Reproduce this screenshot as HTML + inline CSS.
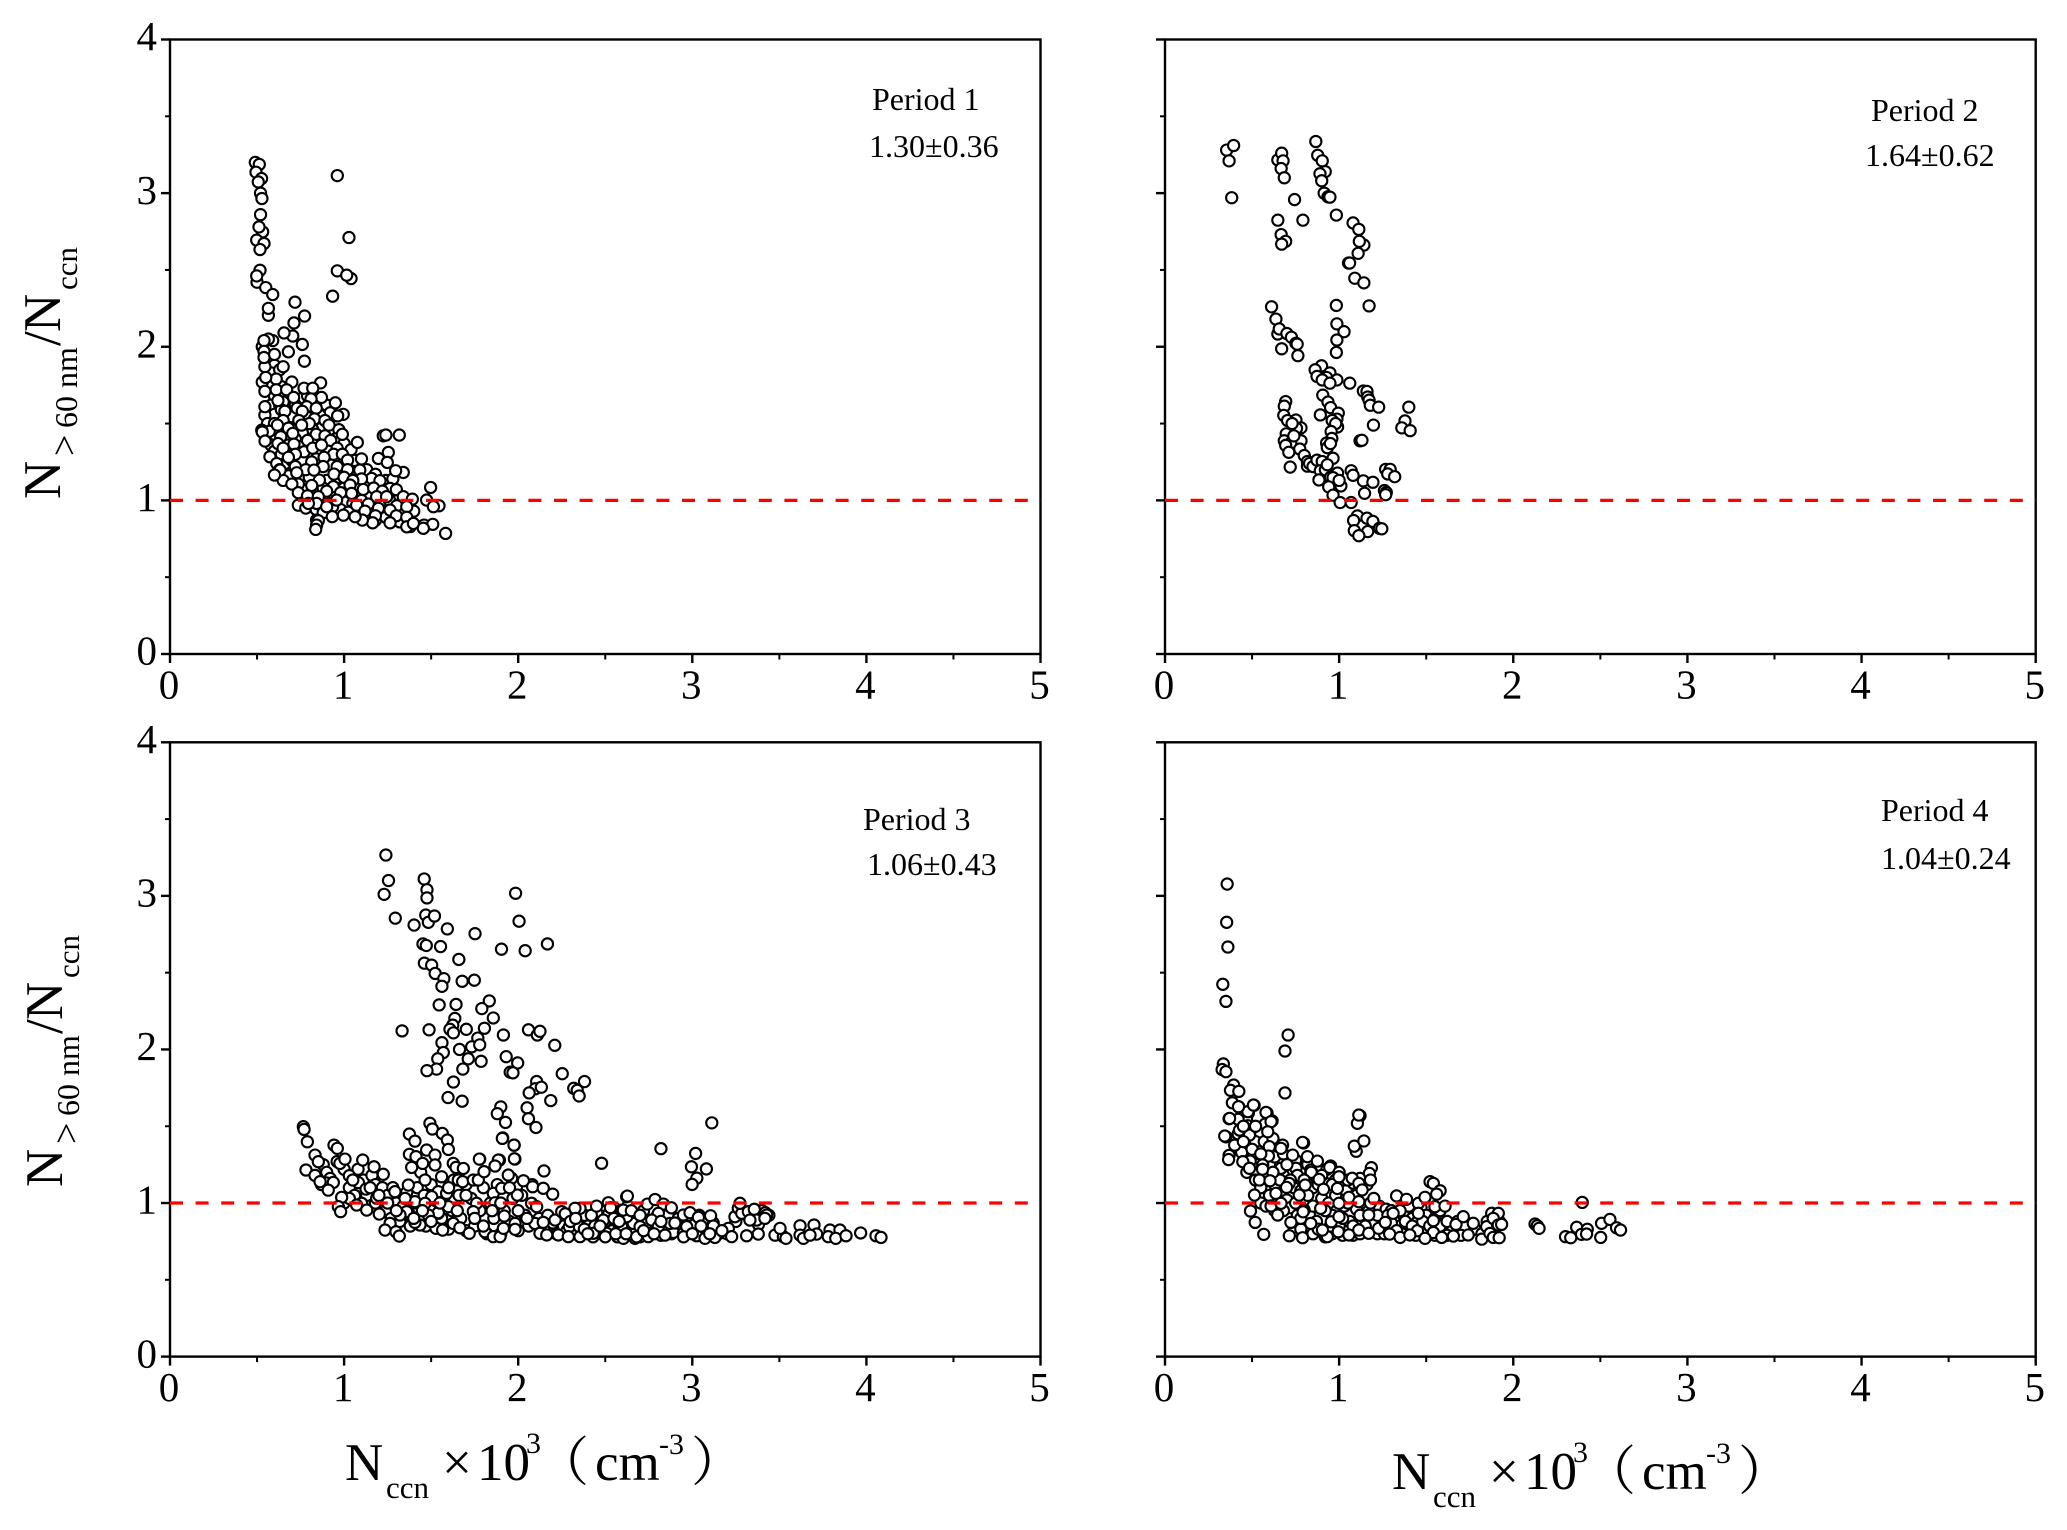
<!DOCTYPE html>
<html>
<head>
<meta charset="utf-8">
<title>Four period scatter panels</title>
<style>
html,body{margin:0;padding:0;background:#fff;}
svg{display:block;}
text{font-family:"Liberation Serif","Noto Serif CJK SC",serif;fill:#000;}
</style>
</head>
<body>
<svg id="chart" xmlns="http://www.w3.org/2000/svg" width="2067" height="1530" viewBox="0 0 2067 1530">
<rect width="2067" height="1530" fill="#fff"/>
<g id="panels"></g>

<g transform="translate(60,499) rotate(-90)">
<text x="0" y="0" font-size="53">N</text>
<text x="43" y="17" font-size="38">&gt;</text>
<text x="71" y="17" font-size="32">60 nm</text>
<text x="153" y="0" font-size="53">/</text>
<text x="167" y="0" font-size="53">N</text>
<text x="209" y="17" font-size="31">ccn</text>
</g>
<g transform="translate(62,1187) rotate(-90)">
<text x="0" y="0" font-size="53">N</text>
<text x="43" y="17" font-size="38">&gt;</text>
<text x="71" y="17" font-size="32">60 nm</text>
<text x="153" y="0" font-size="53">/</text>
<text x="167" y="0" font-size="53">N</text>
<text x="209" y="17" font-size="31">ccn</text>
</g>
<g transform="translate(1,0)">
<text x="344" y="1480" font-size="53">N</text>
<text x="385" y="1498" font-size="31">ccn</text>
<text x="441" y="1480" font-size="53">×</text>
<text x="476" y="1480" font-size="53">10</text>
<text x="525" y="1453" font-size="30">3</text>
<text x="535" y="1480" font-size="53">（</text>
<text x="594" y="1480" font-size="53">cm</text>
<text x="658" y="1454" font-size="30">-3</text>
<text x="690" y="1480" font-size="53">）</text>
</g>
<g transform="translate(1048,9)">
<text x="344" y="1480" font-size="53">N</text>
<text x="385" y="1498" font-size="31">ccn</text>
<text x="441" y="1480" font-size="53">×</text>
<text x="476" y="1480" font-size="53">10</text>
<text x="525" y="1453" font-size="30">3</text>
<text x="535" y="1480" font-size="53">（</text>
<text x="594" y="1480" font-size="53">cm</text>
<text x="658" y="1454" font-size="30">-3</text>
<text x="690" y="1480" font-size="53">）</text>
</g>

<text x="872" y="110" font-size="32">Period 1</text>
<text x="869" y="157" font-size="32">1.30±0.36</text>
<text x="1871" y="121" font-size="32">Period 2</text>
<text x="1865" y="166" font-size="32">1.64±0.62</text>
<text x="863" y="830" font-size="32">Period 3</text>
<text x="867" y="875" font-size="32">1.06±0.43</text>
<text x="1881" y="821" font-size="32">Period 4</text>
<text x="1881" y="869" font-size="32">1.04±0.24</text>
</svg>

<script>
const xTickLabels = [0, 1, 2, 3, 4, 5];
const yTickLabels = [0, 1, 2, 3, 4];
const referenceRatio = [1];

const period1Points = [
[.49,3.2],[.513,3.187],[.494,3.136],[.526,3.095],[.507,3.073],[.52,3.0],[.528,2.965],[.52,2.86],[.532,2.748],[.511,2.78],[.498,2.694],[.54,2.672],[.517,2.633],[.517,2.498],[.5,2.42],[.498,2.461],[.55,2.385],[.59,2.34],[.565,2.205],[.565,2.25],
[.718,2.29],[.773,2.2],[.712,2.155],[.705,2.07],[.655,2.09],[.76,2.015],[.68,1.967],[.772,1.906],[.961,3.114],[1.028,2.711],[.961,2.494],[1.04,2.444],[1.015,2.466],[.934,2.329],
[.57,1.92],[.6,1.88],[.58,1.83],[.63,1.85],[.57,1.76],[.64,1.74],[.6,1.68],[.68,1.66],[.58,1.62],[.63,1.62],[.75,1.66],[.79,1.68],[.72,1.62],[.9,1.62],[.92,1.57],[.78,1.55],[.67,1.55],[.6,1.56],[.87,1.47],[.82,1.46],[.76,1.44],[.6,1.43],[.66,1.42],[.72,1.4],[.84,1.43],[.89,1.42],[.97,1.46],[.95,1.4],[.58,1.36],[.6,1.32],[.64,1.3],[.68,1.36],[.74,1.35],[.8,1.31],[.85,1.3],[.9,1.33],[1.0,1.37],[1.04,1.33],[1.0,1.25],[1.06,1.26],[1.1,1.27],[.66,1.24],[.7,1.26],[.76,1.26],[.9,1.26],[.84,1.27],[.93,1.23],[.68,1.16],[.65,1.13],[.77,1.14],[.8,1.15],[.9,1.13],[.97,1.15],[1.08,1.17],[1.13,1.2],[1.18,1.17],[1.24,1.13],[1.28,1.14],[1.14,1.1],[1.2,1.1],[.76,1.07],[.83,1.06],[.88,1.08],[.94,1.03],[1.0,1.08],[1.07,1.03],[1.13,1.03],[1.28,1.0],[1.32,1.03],[.78,1.0],[.86,1.0],[.92,.98],[1.0,.99],[1.05,.98],[1.1,1.0],[1.16,.97],[1.22,.98],[1.26,1.0],[.82,.96],[.88,.96],[.98,.94],[1.04,.93],[1.1,.9],[1.14,.92],[1.22,.93],[1.28,.92],[1.33,.93],[1.4,.93],[1.18,.87],[1.24,.89],[1.32,.86],[1.38,.83],
[.59,2.04],[.565,2.05],[.53,2.0],[.60,1.95],[.54,2.04],[.54,1.97],[.545,1.87],[.65,1.87],[.54,1.93],[.53,1.77],[.61,1.79],[.70,1.77],[.61,1.72],[.545,1.71],[.55,1.80],[.67,1.72],[.77,1.73],[.865,1.765],[.82,1.73],[.87,1.67],[.81,1.66],[.71,1.67],[.65,1.64],[.95,1.635],[.995,1.56],[.963,1.55],[.86,1.555],[.545,1.555],[.70,1.545],[.545,1.61],[.785,1.61],[.64,1.59],
[.62,1.65],[.66,1.58],[.73,1.6],[.76,1.58],[.74,1.52],[.84,1.6],[.83,1.53],[.89,1.52],[.8,1.5],[.56,1.5],[.6,1.5],[.65,1.52],[.68,1.47],[.57,1.45],[.527,1.457],[.53,1.445],[.99,1.43],[.756,1.49],[.913,1.49],[.617,1.49],[.705,1.436],[.636,1.414],[.546,1.386],[.79,1.39],[.923,1.39],[.712,1.366],[1.076,1.377],[1.225,1.42],[1.24,1.425],[1.317,1.425],
[.62,1.37],[.65,1.34],[.77,1.316],[.574,1.284],[.72,1.3],[.68,1.28],[.82,1.34],[.87,1.36],[.96,1.34],[.94,1.3],[.99,1.3],[.885,1.28],[1.02,1.262],[1.254,1.312],[1.197,1.273],[1.248,1.247],[.613,1.24],[.814,1.25],[.63,1.2],[.72,1.22],[.78,1.2],[.88,1.22],[.96,1.22],[1.02,1.2],[1.09,1.197],[1.34,1.182],[1.296,1.193],[.632,1.197],[.728,1.18],[.827,1.197],[.6,1.165],[.942,1.171],[1.0,1.15],[1.158,1.143],[1.206,1.128],[1.1,1.14],[1.05,1.13],[.858,1.132],[.737,1.106],[.70,1.106],[.814,1.097],[1.264,1.078],[1.034,1.10],[.938,1.089],[1.11,1.071],[1.17,1.08],[1.22,1.06],[1.3,1.07],[1.35,1.0],[.737,1.05],[.79,1.03],[1.043,1.045],[.9,1.06],[.98,1.05],[.852,1.024],[1.187,1.024],[1.244,1.024],[1.34,1.024],[1.392,1.008],[1.474,1.002],[1.497,1.084],
[.737,.969],[.78,.95],[.84,.94],[.88,.92],[.934,.959],[1.545,.965],[1.513,.959],[1.139,.976],[1.302,.965],[1.197,.948],[1.36,.959],[1.024,.922],[.842,.98],[.957,1.002],[1.072,.969],[.795,.98],[.90,.959],[1.264,.937],[1.12,.93],[1.18,.9],[1.3,.9],[1.36,.89],[1.264,.854],[1.36,.828],[1.459,.839],[1.509,.844],[1.583,.785],[1.455,.818],[1.398,.85],[1.164,.854],[1.105,.872],[1.063,.894],[.932,.894],[.996,.904],[.842,.872],[.852,.868],[.842,.839],[.837,.811]
];

const period2Points = [
[.354,3.28],[.394,3.31],[.368,3.21],[.383,2.97],[.648,3.216],[.67,3.26],[.678,3.21],[.667,3.16],[.685,3.10],[.866,3.336],[.877,3.246],[.903,3.21],[.92,3.14],[.89,3.126],[.90,3.08],[.914,3.0],[.936,2.976],[.947,2.974],
[.744,2.958],[.792,2.824],[.648,2.824],[.984,2.857],[.667,2.73],[.693,2.686],[.67,2.668],[1.08,2.806],[1.113,2.764],[1.142,2.662],[1.116,2.686],[1.109,2.608],[1.054,2.545],[1.06,2.545],[1.09,2.446],[1.142,2.416],[1.172,2.266],[.984,2.269],[.987,2.149],[1.028,2.098],[.987,2.044],[.984,1.963],
[.612,2.26],[.637,2.18],[.648,2.083],[.656,2.116],[.70,2.086],[.726,2.062],[.752,2.023],[.759,2.017],[.67,1.987],[.763,1.942],
[.899,1.876],[.862,1.85],[.873,1.807],[.947,1.83],[.928,1.80],[.903,1.784],[.987,1.784],[.947,1.763],[1.061,1.763],[1.139,1.712],[1.16,1.709],[1.164,1.673],[1.172,1.652],[1.179,1.619],[1.227,1.607],[1.378,1.517],[1.40,1.607],[1.36,1.472],[1.408,1.454],[1.197,1.49],
[.906,1.685],[.936,1.64],[.951,1.604],[.892,1.556],[.995,1.568],[.987,1.529],[.991,1.478],[.96,1.52],[.98,1.5],[.954,1.448],[.958,1.403],[.928,1.373],[.932,1.343],[.95,1.37],[1.12,1.388],[1.131,1.391],
[.693,1.643],[.685,1.613],[.682,1.553],[.704,1.52],[.752,1.523],[.781,1.472],[.755,1.469],[.73,1.5],[.696,1.433],[.781,1.388],[.685,1.388],[.722,1.373],[.74,1.42],[.693,1.358],[.774,1.334],[.711,1.313],[.80,1.292],[.719,1.217],[.818,1.253],[.818,1.223],[.83,1.24],[.85,1.22],[.873,1.262],[.903,1.253],[.965,1.274],[.892,1.193],[.921,1.199],[.991,1.178],[.932,1.232],[.95,1.15],[.884,1.133],[.965,1.148],[.94,1.088],[1.01,1.094],[.965,1.034],[1.0,1.13],[1.069,1.193],[1.08,1.163],[1.139,1.127],[1.194,1.118],[1.146,1.046],[1.267,1.202],[1.293,1.202],[1.279,1.172],[1.319,1.154],[1.26,1.064],[1.271,1.052],[1.267,1.037],
[1.006,.986],[1.069,.986],[1.105,.899],[1.16,.884],[1.083,.869],[1.194,.863],[1.231,.818],[1.245,.815],[1.087,.803],[1.164,.797],[1.113,.77]
];

const period3Points = [
[1.24,3.266],[1.255,3.10],[1.23,3.01],[1.294,2.855],[1.46,3.11],[1.476,3.04],[1.476,2.987],[1.469,2.875],[1.484,2.828],[1.519,2.869],[1.402,2.81],[1.593,2.785],[1.453,2.687],[1.472,2.677],[1.554,2.67],[1.752,2.754],[1.461,2.562],[1.503,2.549],[1.523,2.495],[1.659,2.586],[1.573,2.461],[1.678,2.444],[1.748,2.451],[1.562,2.411],[1.546,2.29],[1.643,2.293],[1.834,2.316],[1.791,2.266],[1.857,2.205],[1.636,2.202],[1.806,2.138],[1.624,2.158],[1.608,2.131],[1.628,2.108],[1.702,2.131],[1.768,2.074],[1.488,2.128],[1.333,2.121],[1.915,2.094],[2.059,2.128],[2.11,2.094],[2.125,2.118],[2.21,2.027],[1.997,1.912],[1.931,1.953],[1.733,2.017],[1.663,2.0],[1.779,2.03],[1.562,2.044],[1.57,1.98],[1.538,1.939],[1.713,1.939],[1.787,1.923],[1.682,1.872],[1.531,1.872],[1.476,1.862],[1.628,1.788],[1.954,1.852],[1.97,1.848],[2.253,1.842],[1.985,3.017],[2.005,2.835],[1.904,2.653],[2.04,2.643],[2.168,2.687],
[2.381,1.791],[2.106,1.791],[2.098,1.744],[2.063,1.717],[2.133,1.754],[2.319,1.747],[2.339,1.734],[2.35,1.697],[2.187,1.667],[1.597,1.687],[1.678,1.663],[1.9,1.626],[1.88,1.582],[2.051,1.62],[2.059,1.549],[1.927,1.525],[2.102,1.492],[1.911,1.424],[1.977,1.377],[1.981,1.286],[1.892,1.279],[1.779,1.286],[2.148,1.209],[2.479,1.259],[2.82,1.354],[3.112,1.522],[3.019,1.323],[2.995,1.236],[3.081,1.222],[3.026,1.162],[2.999,1.121],
[.88,1.25],[.9,1.2],[.92,1.16],[.87,1.12],[.9,1.13],[.96,1.27],[1.0,1.22],[1.03,1.1],[1.06,1.05],[1.0,1.0],[1.03,1.03],[1.08,1.22],[1.11,1.15],[1.13,1.05],[1.16,1.18],[1.18,1.12],[1.18,1.0],[1.22,1.1],[1.24,.95],[1.25,1.05],[1.27,.9],[1.28,1.1],[1.3,1.0],[1.32,.88],[1.34,.98],[1.36,1.07],[1.38,.92],[1.38,.85],[1.4,1.0],[1.42,1.1],[1.44,1.2],[1.44,.88],[1.46,1.05],[1.47,.85],[1.5,.95],[1.5,1.12],[1.52,1.03],[1.53,.85],[1.56,.9],[1.58,1.05],[1.6,.83],[1.62,.95],[1.63,1.15],[1.66,1.05],[1.67,.9],[1.7,1.12],[1.7,.82],[1.73,1.03],[1.75,.85],[1.78,.95],[1.8,1.1],[1.82,.8],[1.84,1.0],[1.86,.9],[1.88,1.12],[1.9,.8],[1.92,.95],[1.95,.88],[1.97,1.03],[2.0,.82],[2.02,1.05],[2.04,.92],[2.06,.85],[2.08,1.12],[2.12,.9],[2.15,.82],[2.17,.92],[2.2,.87],[2.22,.8],[2.26,.85],[2.28,.82],[2.32,.8],[2.35,.9],[2.38,.92],[2.4,.85],[2.43,.78],[2.44,.85],[2.46,.92],[2.48,.8],[2.5,.88],[2.52,.93],[2.54,.82],[2.55,.97],[2.57,.78],[2.6,.84],[2.61,.93],[2.63,.98],[2.64,.88],[2.66,.82],[2.68,.9],[2.7,.78],[2.72,.95],[2.74,.87],[2.76,.8],[2.8,.92],[2.82,.79],[2.84,.85],[2.86,.92],[2.88,.8],[2.92,.9],[2.94,.83],[2.98,.92],[3.02,.8],[3.04,.92],[3.08,.82],[3.12,.87],[3.15,.8],[3.2,.8],[3.25,.88],[3.3,.93],[3.34,.91],[3.38,.86],[3.4,.95],[3.44,.92],
[.766,1.497],[.77,1.479],[.789,1.399],[.781,1.215],[.942,1.377],[.961,1.356],[.833,1.312],[.852,1.269],[.976,1.258],[1.005,1.286],[1.107,1.28],[1.172,1.236],[1.225,1.187],[1.03,1.178],[.833,1.18],[.862,1.139],[.938,1.134],[1.082,1.133],[1.126,1.091],[.909,1.084],[.986,1.037],[1.187,1.031],[.967,.976],[.98,.944],[1.101,.998],[1.13,.954],[1.072,.987],[1.202,.928],[1.292,1.074],[1.369,1.117],[1.264,.867],[1.235,.824],[1.298,.813],[1.317,.785],[1.359,.944],[1.321,.922],[1.436,.857],[1.407,.874],[1.528,.835],[1.566,.824],[1.541,.933],[1.627,.867],[1.665,.839],[1.719,.803],[1.809,.813],[1.857,.781],[1.896,.781],[1.915,.835],[1.92,.915],[1.982,.867],[1.982,.829],[1.761,.998],[1.742,.944],[1.857,1.063],[1.905,1.096],[1.867,1.002],[1.991,1.11],[1.962,1.161],[1.943,1.182],[1.995,1.052],[2.03,1.145],[2.083,1.106],[2.144,1.096],[2.198,1.058],[2.077,.998],[2.106,.976],[2.096,.867],[2.125,.803],[2.164,.792],[2.144,.874],[2.212,.889],[2.23,.792],[2.294,.846],[2.288,.781],[2.25,.944],[2.355,.966],[2.326,.966],[2.351,.846],[2.355,.781],[2.451,.937],[2.489,.889],[2.518,1.002],[2.508,.803],[2.431,.803],[2.594,.954],[2.581,.839],[2.623,1.041],[2.604,.77],
[1.375,1.449],[1.407,1.403],[1.375,1.317],[1.413,1.302],[1.388,1.232],[1.474,1.345],[1.522,1.312],[1.522,1.248],[1.451,1.258],[1.465,1.15],[1.56,1.171],[1.493,1.519],[1.507,1.482],[1.564,1.453],[1.593,1.41],[1.599,1.349],[1.541,1.074],[1.503,1.041],[1.589,1.063],[1.407,1.009],[1.465,.998],[1.541,.937],[1.484,.922],[1.599,.976],[1.627,1.258],[1.643,1.232],[1.685,1.225],[1.656,1.15],[1.681,1.139],[1.742,1.15],[1.771,1.15],[1.804,1.204],[1.777,1.286],[1.886,1.28],[1.867,1.241],[1.976,1.377],[1.978,1.288],[1.909,1.421],
[2.627,1.045],[2.742,.993],[2.786,1.023],[2.834,.993],[2.88,.969],[2.949,.922],[2.987,.937],[2.805,.933],[2.767,.889],[3.035,.907],[3.105,.917],[3.121,.85],[3.207,.835],[2.805,.846],[2.891,.809],[2.843,.791],[2.949,.803],[3.025,.787],[3.073,.77],[3.13,.776],[3.226,.781],[3.312,.787],[3.379,.798],[3.475,.791],[3.523,.781],[3.538,.77],[3.504,.835],[3.619,.852],[3.619,.791],[3.638,.77],[3.699,.857],[3.714,.798],[3.676,.791],[3.791,.824],[3.848,.824],[3.781,.781],[3.824,.77],[3.883,.787],[3.967,.805],[4.055,.787],[4.084,.776],
[3.245,.911],[3.264,.966],[3.284,.933],[3.322,.944],[3.356,.959],[3.419,.937],[3.427,.922],[3.37,.889],[3.417,.9],[3.331,.889],[3.274,.998],[2.671,.77],[2.747,.781],[2.661,.867],[2.623,.911],[2.872,.867],[2.968,.846],[2.70,.846],[2.604,.954],[2.594,.846],
[2.27,.93],[2.3,.88],[2.33,.9],[2.38,.83],[2.4,.8],[2.42,.92],[2.45,.98],[2.47,.85],[2.5,.78],[2.53,.97],[2.55,.9],[2.56,.8],[2.58,.88],[2.62,.8],[2.65,.95],[2.68,.78],[2.7,.92],[2.72,.82],[2.78,.8],[2.82,.88],[2.9,.87],[2.95,.78],[3.0,.8],[3.05,.85],[3.1,.8],[3.17,.82],
[1.05,1.15],[1.15,1.1],[1.2,1.05],[1.25,1.0],[1.3,.95],[1.35,1.03],[1.4,.9],[1.45,.95],[1.5,.88],[1.55,1.0],[1.6,1.1],[1.65,.95],[1.7,1.05],[1.75,.9],[1.8,.85],[1.85,.95],[1.9,1.0],[1.95,1.1],[2.0,.95],[2.05,.9]
];

const period4Points = [
[.357,3.077],[.354,2.828],[.361,2.667],[.332,2.424],[.35,2.313],[.707,2.094],[.689,1.99],[.689,1.717],
[.335,1.906],[.328,1.869],[.35,1.855],[.394,1.768],[.376,1.734],[.424,1.727],[.387,1.653],[.424,1.626],[.512,1.636],[.586,1.586],[.479,1.586],[.468,1.545],[.368,1.549],[.578,1.508],[.615,1.535],[.42,1.545],[.431,1.468],[.486,1.434],[.578,1.451],[.35,1.431],[.405,1.377],[.67,1.367],[.796,1.391],[.368,1.31],[.365,1.283],[.494,1.266],[.597,1.3],[.56,1.246],[.542,1.35],[.468,1.313],[1.098,1.337],[1.087,1.37],[1.142,1.404],[1.12,1.569],[1.105,1.519],[1.113,1.573],
[.42,1.45],[.46,1.42],[.5,1.48],[.55,1.45],[.48,1.38],[.52,1.4],[.57,1.4],[.62,1.42],[.44,1.33],[.5,1.3],[.53,1.25],[.6,1.25],[.63,1.3],[.47,1.2],[.52,1.2],[.58,1.17],[.63,1.12],[.68,1.32],[.72,1.22],[.75,1.28],[.78,1.22],[.82,1.25],[.86,1.18],[.68,1.18],[.74,1.1],[.78,1.08],[.85,1.1],[.92,1.13],[.93,1.22],[.98,1.15],[1.04,1.08],[1.08,1.13],[1.12,1.16],[1.16,1.12],[.55,1.0],[.58,.98],[.63,.95],[.7,1.02],[.72,.97],[.76,.92],[.8,1.0],[.83,.92],[.87,.88],[.9,1.03],[.94,1.0],[.96,.92],[1.0,.85],[1.03,.98],[1.06,.88],[1.1,.96],[1.13,.87],[1.17,.95],[1.2,.87],[1.23,.98],[1.27,.96],[1.3,.95],[1.32,.9],[1.35,.85],[1.37,.92],[1.4,.98],[1.42,.9],[1.45,.88],[1.47,.97],[1.5,.92],[1.55,.9],[1.58,.95],[1.6,.83],[1.65,.82],[1.68,.88],[1.72,.85],[1.78,.83],[1.82,.8],[1.85,.88],[1.88,.83],[1.92,.88],[.74,.82],[.78,.83],[.85,.8],[.88,.83],[.92,.78],[.96,.8],[1.02,.79],[1.08,.79],[1.12,.8],[1.22,.8],[1.26,.8],[1.36,.8],[1.44,.79],[1.55,.79],[1.62,.79],[1.7,.79],
[.476,1.595],[.58,1.59],[.508,1.638],[.575,1.514],[.476,1.503],[.371,1.551],[.422,1.627],[.609,1.53],[.59,1.464],[.485,1.443],[.4,1.377],[.343,1.436],[.428,1.475],[.675,1.377],[.79,1.395],[.666,1.356],[.599,1.367],[.489,1.273],[.447,1.269],[.594,1.306],[.733,1.312],[.818,1.302],[.875,1.273],[.951,1.241],[.946,1.232],[.666,1.226],[.561,1.248],[.485,1.226],[.752,1.226],[.837,1.215],[.45,1.4],[.5,1.35],[.55,1.32],[.45,1.5],[.52,1.5],
[.7,1.25],[.76,1.18],[.84,1.2],[.66,1.15],[.62,1.2],[.56,1.22],[.52,1.15],[.9,1.18],[.96,1.12],[1.0,1.2],[1.05,1.15],[.55,1.1],[.6,1.05],[.65,1.0],[.68,.95],[.72,1.15],[.75,1.0],[.78,.9],[.82,1.05],[.85,.98],[.88,1.12],[.92,.95],[.95,.85],[.98,1.05],[1.02,.9],[1.05,1.0],[1.08,.85],[1.1,1.05],[1.12,.92],[1.15,.85],[1.18,1.0],[1.22,.92],[1.25,.85],[1.28,.92],[1.3,.87],[1.33,.82],[1.35,.95],[1.38,.88],[1.42,.85],[1.45,.82],[1.48,.88],[1.52,.85],[1.58,.85],[1.62,.88],
[.542,1.15],[.603,1.145],[.713,1.128],[.799,1.15],[.885,1.154],[.999,1.171],[1.075,1.161],[1.185,1.23],[1.174,1.193],[1.18,1.15],[.698,1.102],[.805,1.117],[.91,1.089],[.99,1.095],[1.113,1.128],[1.132,1.085],[.514,1.052],[.637,1.063],[.771,1.052],[1.056,1.037],[1.199,1.03],[.609,.981],[.666,.998],[.799,.955],[.894,.965],[.999,.998],[1.113,1.009],[1.33,1.046],[1.387,1.024],[1.455,.998],[1.522,1.139],[1.541,1.128],[1.58,1.08],[1.56,1.058],[1.493,1.037],[1.55,.976],[1.608,.98],
[.491,.948],[.518,.874],[.567,.796],[.647,.922],[.723,.874],[.714,.787],[.79,.774],[.793,.943],[.837,.867],[.932,.781],[.904,.824],[.955,.878],[.999,.911],[.995,.813],[1.056,.792],[1.113,.824],[1.17,.922],[1.17,.803],[1.227,.835],[1.265,.874],[1.29,.798],[1.35,.776],[1.406,.792],[1.31,.933],[1.455,.933],[1.541,.885],[1.541,.808],[1.493,.77],[1.589,.776],[1.656,.785],[1.671,.861],[1.713,.911],[1.741,.792],[1.77,.868],[1.819,.765],[1.847,.846],[1.866,.802],[1.876,.933],[1.914,.933],[1.885,.9],[1.914,.857],[1.933,.861],[1.885,.776],[1.919,.774],
[2.125,.863],[2.138,.852],[2.148,.835],[2.30,.781],[2.33,.774],[2.364,.842],[2.392,.796],[2.425,.829],[2.421,.798],[2.396,1.004],[2.507,.868],[2.502,.776],[2.555,.893],[2.593,.839],[2.616,.824]
];

const SVG_NS = 'http://www.w3.org/2000/svg';
const X_MAX = 5;
const Y_MAX = 4;
const panelsLayer = document.getElementById('panels');

function drawLine(parent, x1, y1, x2, y2, width) {
  const l = document.createElementNS(SVG_NS, 'line');
  l.setAttribute('x1', x1);
  l.setAttribute('y1', y1);
  l.setAttribute('x2', x2);
  l.setAttribute('y2', y2);
  l.setAttribute('stroke', '#000');
  l.setAttribute('stroke-width', width);
  parent.appendChild(l);
  return l;
}

function drawLabel(parent, x, y, value, anchor) {
  const t = document.createElementNS(SVG_NS, 'text');
  t.setAttribute('x', x);
  t.setAttribute('y', y);
  t.setAttribute('font-size', '41');
  t.setAttribute('text-anchor', anchor);
  t.textContent = value;
  parent.appendChild(t);
  return t;
}

function drawPanel(name, points, left, right, top, bottom, showYLabels) {
  const xScale = function (v) { return left + (v / X_MAX) * (right - left); };
  const yScale = function (v) { return bottom - (v / Y_MAX) * (bottom - top); };
  const g = document.createElementNS(SVG_NS, 'g');
  
  
  panelsLayer.appendChild(g);

  const markers = document.createElementNS(SVG_NS, 'g');
  
  
  g.appendChild(markers);
  points.forEach(function (p) {
    const c = document.createElementNS(SVG_NS, 'circle');
    
    
    c.setAttribute('cx', xScale(p[0]).toFixed(2));
    c.setAttribute('cy', yScale(p[1]).toFixed(2));
    c.setAttribute('r', '5.6');
    c.setAttribute('fill', '#fff');
    c.setAttribute('stroke', '#000');
    c.setAttribute('stroke-width', '2.1');
    markers.appendChild(c);
  });

  const frame = document.createElementNS(SVG_NS, 'rect');
  
  
  frame.setAttribute('x', left);
  frame.setAttribute('y', top);
  frame.setAttribute('width', right - left);
  frame.setAttribute('height', bottom - top);
  frame.setAttribute('fill', 'none');
  frame.setAttribute('stroke', '#000');
  frame.setAttribute('stroke-width', '2.4');
  g.appendChild(frame);

  referenceRatio.forEach(function (v) {
    const ref = drawLine(g, left, yScale(v), right, yScale(v), 3.2);
    
    
    ref.setAttribute('stroke', '#ff0000');
    ref.setAttribute('stroke-dasharray', '13 12.6');
  });

  const xAxis = document.createElementNS(SVG_NS, 'g');
  
  
  g.appendChild(xAxis);
  xTickLabels.forEach(function (v, i) {
    drawLine(xAxis, xScale(v), bottom, xScale(v), bottom + 9, 2.4);
    if (i < xTickLabels.length - 1) {
      const mid = (v + xTickLabels[i + 1]) / 2;
      drawLine(xAxis, xScale(mid), bottom, xScale(mid), bottom + 5.5, 2);
    }
    drawLabel(xAxis, xScale(v) - 1, bottom + 44.5, v, 'middle');
  });

  const yAxis = document.createElementNS(SVG_NS, 'g');
  
  
  g.appendChild(yAxis);
  yTickLabels.forEach(function (v, i) {
    drawLine(yAxis, left - 9, yScale(v), left, yScale(v), 2.4);
    if (i < yTickLabels.length - 1) {
      const mid = (v + yTickLabels[i + 1]) / 2;
      drawLine(yAxis, left - 5, yScale(mid), left, yScale(mid), 2);
    }
    if (showYLabels) {
      drawLabel(yAxis, left - 13, yScale(v) + 10.7, v, 'end');
    }
  });
}

drawPanel('period-1-panel', period1Points, 170, 1040.5, 39.5, 654, true);
drawPanel('period-2-panel', period2Points, 1165, 2035.7, 39.5, 654, false);
drawPanel('period-3-panel', period3Points, 170, 1040.5, 742.3, 1356.6, true);
drawPanel('period-4-panel', period4Points, 1165, 2035.7, 742.3, 1356.6, false);
</script>
</body>
</html>
